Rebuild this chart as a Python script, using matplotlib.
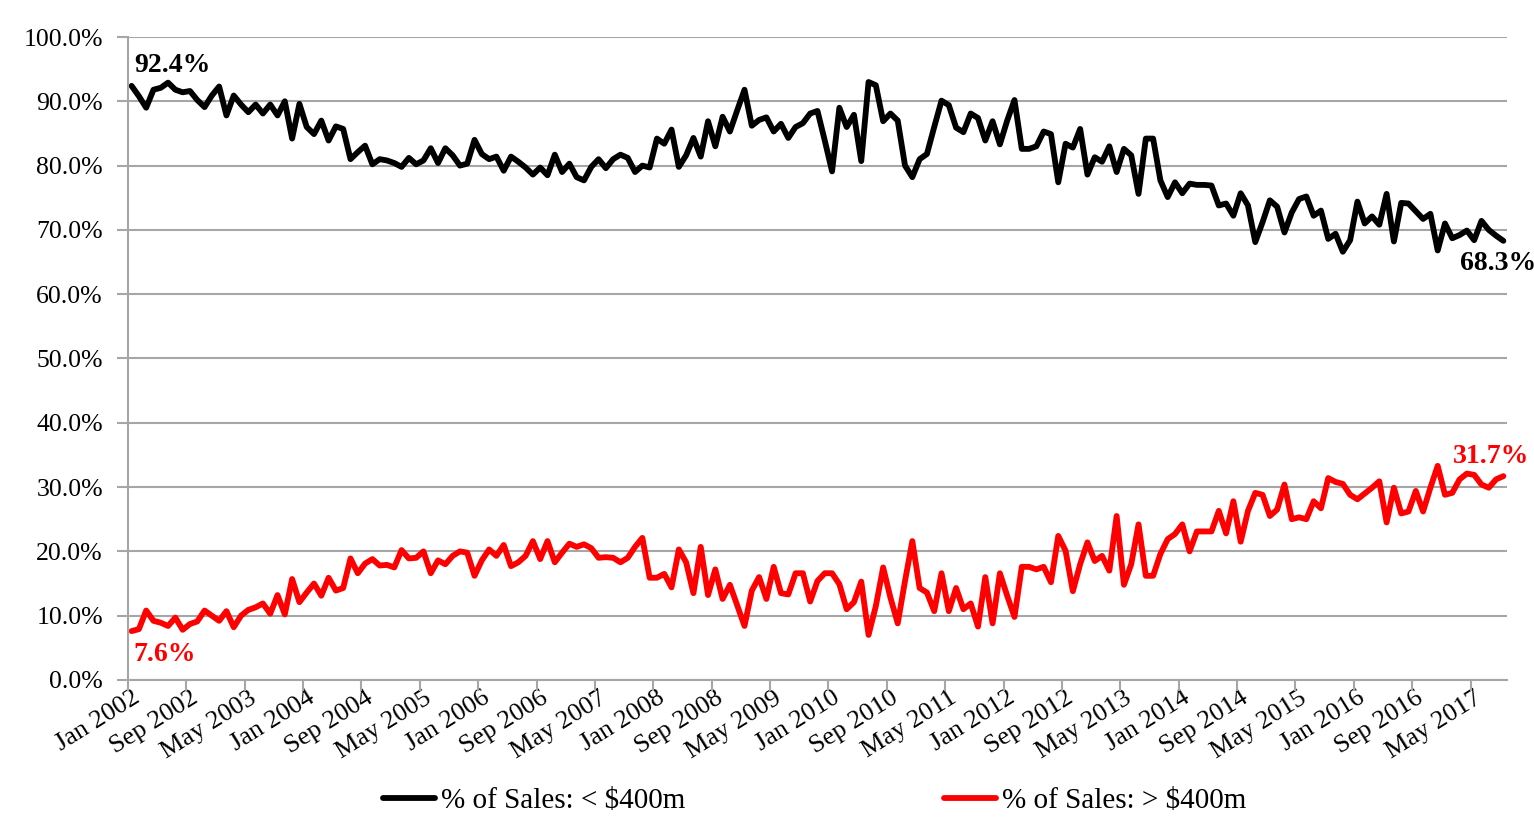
import numpy as np
import pandas as pd
import matplotlib
matplotlib.use("Agg")
import matplotlib.pyplot as plt
import matplotlib.transforms as mtransforms
from matplotlib.ticker import FixedLocator, FuncFormatter

plt.rcParams['font.family'] = ['Liberation Serif', 'DejaVu Serif']

# monthly categories, Jan 2002 .. Sep 2017
months = pd.date_range('2002-01-01', periods=189, freq='MS')
month_labels = [d.strftime('%b %Y') for d in months]

# % of sales below $400m
share_small = [
    92.4, 90.8, 89.0, 91.8, 92.1, 92.9, 91.8, 91.4, 91.6, 90.2,
    89.1, 90.9, 92.3, 87.8, 90.9, 89.5, 88.3, 89.5, 88.1, 89.5,
    87.8, 90.0, 84.2, 89.6, 86.0, 84.9, 87.0, 83.9, 86.1, 85.7,
    81.0, 82.1, 83.1, 80.2, 81.0, 80.8, 80.4, 79.8, 81.2, 80.2,
    80.8, 82.7, 80.4, 82.7, 81.6, 80.0, 80.3, 84.0, 81.8, 81.0,
    81.4, 79.2, 81.4, 80.6, 79.7, 78.6, 79.7, 78.5, 81.7, 79.0,
    80.3, 78.2, 77.7, 79.8, 81.0, 79.6, 81.0, 81.7, 81.2, 79.0,
    80.0, 79.7, 84.2, 83.4, 85.6, 79.8, 81.6, 84.3, 81.4, 86.9,
    83.0, 87.6, 85.3, 88.6, 91.8, 86.2, 87.1, 87.5, 85.3, 86.5,
    84.3, 86.0, 86.6, 88.1, 88.5, 83.9, 79.1, 89.0, 86.0, 87.9,
    80.7, 93.0, 92.5, 86.9, 88.1, 87.0, 80.0, 78.2, 81.0, 81.8,
    86.0, 90.1, 89.4, 85.9, 85.2, 88.1, 87.4, 83.9, 86.9, 83.3,
    87.0, 90.2, 82.6, 82.6, 83.0, 85.3, 84.9, 77.4, 83.4, 82.8,
    85.7, 78.6, 81.3, 80.6, 83.0, 79.0, 82.6, 81.6, 75.6, 84.2,
    84.2, 77.7, 75.1, 77.4, 75.7, 77.2, 77.0, 77.0, 76.9, 73.8,
    74.1, 72.2, 75.7, 73.8, 68.1, 71.2, 74.6, 73.6, 69.6, 72.7,
    74.8, 75.2, 72.2, 73.0, 68.6, 69.4, 66.6, 68.4, 74.4, 71.0,
    72.1, 70.8, 75.6, 68.2, 74.2, 74.1, 72.9, 71.7, 72.5, 66.8,
    71.0, 68.7, 69.2, 69.9, 68.4, 71.4, 70.0, 69.1, 68.3,
]

# % of sales above $400m
share_large = [
    7.6, 7.9, 10.8, 9.2, 8.9, 8.4, 9.7, 7.8, 8.7, 9.1,
    10.8, 10.0, 9.2, 10.7, 8.2, 10.0, 10.9, 11.3, 11.9, 10.3,
    13.2, 10.2, 15.7, 12.1, 13.6, 15.0, 13.1, 15.9, 13.9, 14.3,
    18.9, 16.6, 18.1, 18.8, 17.8, 17.9, 17.5, 20.2, 18.9, 19.0,
    20.0, 16.6, 18.6, 18.0, 19.3, 20.0, 19.8, 16.2, 18.6, 20.3,
    19.3, 21.0, 17.7, 18.3, 19.3, 21.6, 18.8, 21.6, 18.3, 19.8,
    21.2, 20.7, 21.1, 20.5, 19.0, 19.1, 19.0, 18.3, 19.0, 20.7,
    22.1, 15.9, 15.9, 16.5, 14.4, 20.3, 18.3, 13.5, 20.7, 13.2,
    17.2, 12.6, 14.8, 11.6, 8.4, 13.9, 16.0, 12.6, 17.6, 13.5,
    13.3, 16.6, 16.6, 12.2, 15.4, 16.6, 16.6, 14.9, 11.0, 12.1,
    15.3, 7.0, 11.5, 17.5, 12.8, 8.8, 15.4, 21.6, 14.3, 13.6,
    10.7, 16.6, 10.7, 14.3, 11.0, 11.9, 8.3, 16.0, 8.8, 16.6,
    13.1, 9.8, 17.6, 17.6, 17.2, 17.6, 15.2, 22.4, 20.1, 13.8,
    18.0, 21.4, 18.5, 19.3, 17.0, 25.5, 14.8, 18.0, 24.2, 16.2,
    16.2, 19.6, 21.9, 22.7, 24.2, 20.0, 23.1, 23.1, 23.1, 26.3,
    22.8, 27.8, 21.5, 26.3, 29.1, 28.8, 25.5, 26.5, 30.4, 25.0,
    25.3, 25.0, 27.8, 26.7, 31.4, 30.8, 30.5, 28.8, 28.1, 29.0,
    29.9, 30.9, 24.5, 29.9, 25.9, 26.2, 29.4, 26.2, 29.9, 33.3,
    28.8, 29.1, 31.2, 32.1, 31.9, 30.4, 29.9, 31.2, 31.7,
]

small_label = '% of Sales: < \\$400m'
large_label = '% of Sales: > \\$400m'

grid_gray = '#a6a6a6'

fig = plt.figure(figsize=(15.34, 8.26), dpi=100)
ax = fig.add_axes([0.0834, 0.1768, 0.8990, 0.7784])

x = np.arange(len(months))
ax.plot(x, share_small, color='black', lw=4.2, solid_joinstyle='round',
        solid_capstyle='round', label=small_label, clip_on=False)
ax.plot(x, share_large, color='#ff0000', lw=4.2, solid_joinstyle='round',
        solid_capstyle='round', label=large_label, clip_on=False)

ax.set_xlim(-0.5, len(months) - 0.5)
ax.set_ylim(0, 100)

# y axis
ax.yaxis.set_major_locator(FixedLocator(np.arange(0, 101, 10)))
ax.yaxis.set_major_formatter(FuncFormatter(lambda v, p: '%.1f%%' % v))
ax.yaxis.grid(True, color=grid_gray, lw=1.5)
ax.set_axisbelow(True)
ax.tick_params(axis='y', direction='out', length=8, width=1.5, color=grid_gray,
               labelsize=18.5, pad=10)

# x axis: labels every 8 months, tick marks on category boundaries
label_pos = x[::8]
ax.xaxis.set_major_locator(FixedLocator(label_pos))
ax.set_xticklabels([month_labels[i] for i in label_pos], rotation=32,
                   ha='right', va='top', rotation_mode='anchor')
shift = mtransforms.ScaledTranslation(3 / 72, 0, fig.dpi_scale_trans)
for lbl in ax.get_xticklabels():
    lbl.set_transform(lbl.get_transform() + shift)
ax.xaxis.set_minor_locator(FixedLocator(label_pos - 0.5))
ax.tick_params(axis='x', which='major', length=0, labelsize=19, pad=5)
ax.tick_params(axis='x', which='minor', direction='out', length=8, width=1.5,
               color=grid_gray)

for side in ['top', 'right']:
    ax.spines[side].set_visible(False)
for side in ['left', 'bottom']:
    ax.spines[side].set_color(grid_gray)
    ax.spines[side].set_linewidth(1.5)

# end point labels
ax.annotate('%.1f%%' % share_small[0], (0, share_small[0]), xytext=(2, 15),
            textcoords='offset points', ha='left', va='center',
            fontsize=20, fontweight='bold', color='black')
ax.annotate('%.1f%%' % share_large[0], (0, share_large[0]), xytext=(1, -17),
            textcoords='offset points', ha='left', va='center',
            fontsize=20, fontweight='bold', color='#ff0000')
ax.annotate('%.1f%%' % share_small[-1], (x[-1], share_small[-1]), xytext=(-31, -16),
            textcoords='offset points', ha='left', va='center',
            fontsize=20, fontweight='bold', color='black', annotation_clip=False)
ax.annotate('%.1f%%' % share_large[-1], (x[-1], share_large[-1]), xytext=(-36, 14),
            textcoords='offset points', ha='left', va='center',
            fontsize=20, fontweight='bold', color='#ff0000', annotation_clip=False)

fig.legend(loc='center', bbox_to_anchor=(0.531, 0.030), ncol=2, frameon=False,
           fontsize=21, handlelength=1.78, handletextpad=0.2, columnspacing=8.9)

fig.savefig('out.png', dpi=100)
